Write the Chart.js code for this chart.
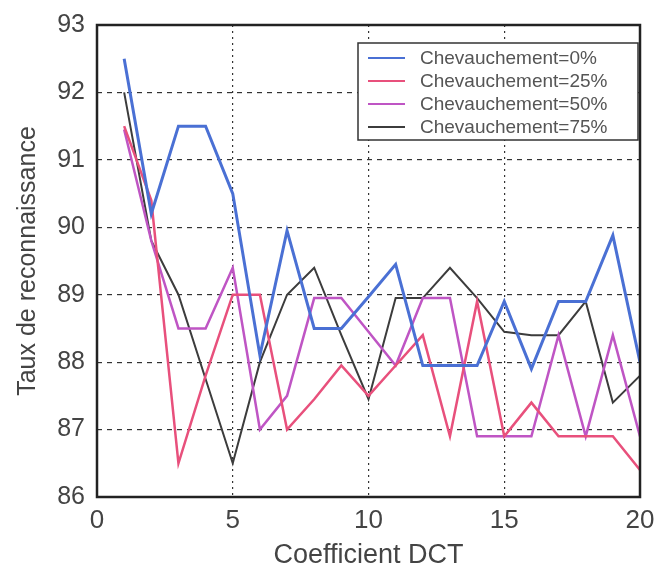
<!DOCTYPE html>
<html>
<head>
<meta charset="utf-8">
<script src="https://cdn.jsdelivr.net/npm/chart.js@4.4.1/dist/chart.umd.min.js"></script>
<style>
  html, body { margin: 0; padding: 0; background: #fff; }
  #wrap { width: 657px; height: 569px; }
</style>
</head>
<body>
<div id="wrap"><canvas id="dctChart" width="657" height="569"></canvas></div>
<script>
// coefficients DCT (axe x)
const coeffs = [1, 2, 3, 4, 5, 6, 7, 8, 9, 10, 11, 12, 13, 14, 15, 16, 17, 18, 19, 20];

// taux de reconnaissance par chevauchement
const chev0 = [92.5, 90.2, 91.5, 91.5, 90.5, 88.1, 89.95, 88.5, 88.5, 88.97, 89.45, 87.95, 87.95, 87.95, 88.9, 87.9, 88.9, 88.9, 89.88, 88.0];
const chev25 = [91.5, 90.4, 86.5, 87.8, 89.0, 89.0, 87.0, 87.45, 87.95, 87.5, 87.95, 88.4, 86.9, 88.9, 86.9, 87.4, 86.9, 86.9, 86.9, 86.4];
const chev50 = [91.45, 89.8, 88.5, 88.5, 89.4, 87.0, 87.5, 88.95, 88.95, 88.45, 87.95, 88.95, 88.95, 86.9, 86.9, 86.9, 88.4, 86.9, 88.4, 86.9];
const chev75 = [92.0, 89.8, 89.0, 87.75, 86.5, 88.0, 89.0, 89.4, 88.4, 87.45, 88.95, 88.95, 89.4, 88.95, 88.45, 88.4, 88.4, 88.9, 87.4, 87.8];

const seriesLabels = ["Chevauchement=0%", "Chevauchement=25%", "Chevauchement=50%", "Chevauchement=75%"];
const seriesColors = ["#4a70d4", "#e8507c", "#bf55c4", "#3c3c3c"];
const seriesWidths = [3, 2.5, 2.5, 2];

const xTicks = [0, 5, 10, 15, 20];
const yTicks = [86, 87, 88, 89, 90, 91, 92, 93];

const allSeries = [chev0, chev25, chev50, chev75];
const FONT = "'Liberation Sans', Arial, sans-serif";

const datasets = allSeries.map((vals, i) => ({
  label: seriesLabels[i],
  data: vals.map((v, k) => ({ x: coeffs[k], y: v })),
  borderColor: seriesColors[i],
  backgroundColor: seriesColors[i],
  borderWidth: seriesWidths[i],
  pointRadius: 0,
  tension: 0,
  fill: false,
}));

// cadre + légende dans la zone du graphique
const framePlugin = {
  id: "frame",
  afterDatasetsDraw(chart) {
    const { ctx, chartArea: a } = chart;
    ctx.save();
    ctx.strokeStyle = "#222";
    ctx.lineWidth = 2.5;
    ctx.strokeRect(a.left, a.top, a.right - a.left, a.bottom - a.top);

    // légende
    const bx = a.right - 282, by = a.top + 18, bw = 280, bh = 97;
    ctx.fillStyle = "#fff";
    ctx.fillRect(bx, by, bw, bh);
    ctx.strokeStyle = "#333";
    ctx.lineWidth = 1.5;
    ctx.strokeRect(bx, by, bw, bh);
    ctx.font = "19px " + FONT;
    ctx.textBaseline = "middle";
    seriesLabels.forEach((lab, i) => {
      const y = by + 15 + i * 23;
      ctx.strokeStyle = seriesColors[i];
      ctx.lineWidth = 2;
      ctx.beginPath();
      ctx.moveTo(bx + 10, y);
      ctx.lineTo(bx + 47, y);
      ctx.stroke();
      ctx.fillStyle = "#555";
      ctx.fillText(lab, bx + 62, y + 1);
    });
    ctx.restore();
  },
};

new Chart(document.getElementById("dctChart"), {
  type: "line",
  data: { datasets },
  options: {
    responsive: false,
    animation: false,
    layout: { padding: { top: 25, right: 17, left: 0, bottom: 0 } },
    plugins: {
      legend: { display: false },
      tooltip: { enabled: false },
    },
    scales: {
      x: {
        type: "linear",
        min: 0,
        max: 20,
        afterBuildTicks: (s) => { s.ticks = xTicks.map((v) => ({ value: v })); },
        afterFit: (s) => { s.height = 72; s.paddingLeft = 0; s.paddingRight = 0; },
        grid: {
          color: "#333",
          lineWidth: 1.2,
          drawTicks: false,
        },
        border: { display: false, dash: [2, 4] },
        ticks: {
          color: "#444",
          font: { size: 26, family: FONT },
          padding: 8,
        },
        title: {
          display: true,
          text: "Coefficient DCT",
          color: "#444",
          font: { size: 27, family: FONT, lineHeight: 1 },
          padding: { top: 0, bottom: 0 },
        },
      },
      y: {
        min: 86,
        max: 93,
        afterBuildTicks: (s) => { s.ticks = yTicks.map((v) => ({ value: v })); },
        afterFit: (s) => { s.width = 97; s.paddingTop = 0; s.paddingBottom = 0; },
        grid: {
          color: "#333",
          lineWidth: 1.2,
          drawTicks: false,
        },
        border: { display: false, dash: [5, 5] },
        ticks: {
          color: "#444",
          font: { size: 25, family: FONT },
          padding: 12,
        },
        title: {
          display: true,
          text: "Taux de reconnaissance",
          color: "#444",
          font: { size: 25, family: FONT },
          padding: { bottom: 0, top: 13 },
        },
      },
    },
  },
  plugins: [framePlugin],
});
</script>
</body>
</html>
